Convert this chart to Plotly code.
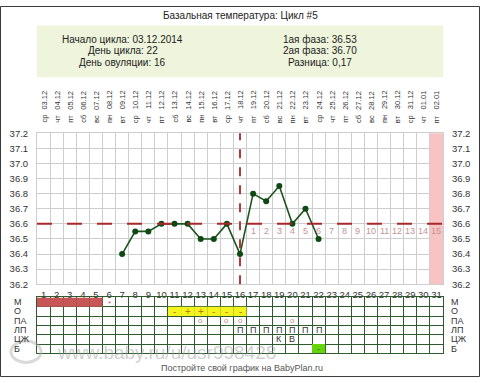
import plotly.graph_objects as go

W, H = 480, 383
def px(x): return x / W
def py(y): return 1 - y / H

# ---------------- data ----------------
days = list(range(1, 32))
dates = ["03.12", "04.12", "05.12", "06.12", "07.12", "08.12", "09.12", "10.12", "11.12", "12.12",
         "13.12", "14.12", "15.12", "16.12", "17.12", "18.12", "19.12", "20.12", "21.12", "22.12",
         "23.12", "24.12", "25.12", "26.12", "27.12", "28.12", "29.12", "30.12", "31.12", "01.01", "02.01"]
weekdays = ["ср", "чт", "пт", "сб", "вс", "пн", "вт", "ср", "чт", "пт", "сб", "вс", "пн", "вт",
            "ср", "чт", "пт", "сб", "вс", "пн", "вт", "ср", "чт", "пт", "сб", "вс", "пн", "вт",
            "ср", "чт", "пт"]
temp_days = [7, 8, 9, 10, 11, 12, 13, 14, 15, 16, 17, 18, 19, 20, 21, 22]
temps = [36.40, 36.55, 36.55, 36.60, 36.60, 36.60, 36.50, 36.50, 36.60, 36.40,
         36.80, 36.75, 36.85, 36.60, 36.70, 36.50]
coverline = 36.6
ovulation_day = 16
post_ov_days = [17, 18, 19, 20, 21, 22, 23, 24, 25, 26, 27, 28, 29, 30, 31]
post_ov_labels = ["1", "2", "3", "4", "5", "6", "7", "8", "9", "10", "11", "12", "13", "14", "15"]
highlight_days = [31]
y_min, y_max = 36.2, 37.2

title = "Базальная температура: Цикл #5"
info_left = ["Начало цикла: 03.12.2014", "День цикла: 22", "День овуляции: 16"]
info_right = ["1ая фаза: 36.53", "2ая фаза: 36.70", "Разница: 0,17"]

row_labels = ["М", "О", "ПА", "ЛП", "ЦЖ", "Б"]
menses_days = [1, 2, 3, 4, 5]
spot_days = [6]
spot_marks = ["*"]
test_days = [11, 12, 13, 14, 15, 16]
test_marks = ["-", "+", "+", "-", "-", "-"]
pa_days = [13, 15, 16, 20]
lp_days = [16, 17, 18, 19, 20, 21, 22]
cm_days = [19, 20]
cm_marks = ["К", "В"]
b_days = [22]
b_marks = ["-"]

watermark = "www.baby.ru/u/usr998428"
footer = "Постройте свой график на BabyPlan.ru"

# ---------------- layout geometry ----------------
FONT = "Liberation Sans, Arial, sans-serif"
xdom = [px(37), px(443)]
ydom_main = [py(286.5), py(131)]
ydom_tab = [py(357.6), py(300)]
bounds = [d - 0.5 for d in days] + [days[-1] + 0.5]
GRID = "#cdcdcd"
TGRID = "#2f5a2f"

fig = go.Figure()

# temperature curve
fig.add_trace(go.Scatter(x=temp_days, y=temps, mode="lines+markers",
                         line=dict(color="#1d5420", width=1.6),
                         marker=dict(color="#0d4a12", size=6),
                         xaxis="x", yaxis="y", hoverinfo="skip", showlegend=False))
# invisible traces so the right axis and table axes render
fig.add_trace(go.Scatter(x=[days[0]], y=[y_min], mode="markers", marker=dict(opacity=0),
                         xaxis="x", yaxis="y2", showlegend=False, hoverinfo="skip"))
fig.add_trace(go.Scatter(x=[days[0]], y=[0.5], mode="markers", marker=dict(opacity=0),
                         xaxis="x3", yaxis="y3", showlegend=False, hoverinfo="skip"))

shapes = []
annotations = []

# outer frame and info box
shapes.append(dict(type="rect", xref="paper", yref="paper", x0=px(0.5), x1=px(479.5),
                   y0=py(381.5), y1=py(0.5), line=dict(color="#3a3a3a", width=1), layer="below"))
shapes.append(dict(type="rect", xref="paper", yref="paper", x0=px(36.7), x1=px(443.3),
                   y0=py(73.3), y1=py(20), fillcolor="#eef5dc", line=dict(width=0), layer="below"))
# highlighted column
for d in highlight_days:
    shapes.append(dict(type="rect", xref="x", yref="y domain", x0=d - 0.5, x1=d + 0.5, y0=0, y1=1,
                       fillcolor="#f8c3c3", line=dict(width=0), layer="above"))
# coverline and ovulation line
shapes.append(dict(type="line", xref="x domain", yref="y", x0=0, x1=1, y0=coverline, y1=coverline,
                   line=dict(color="#a8282a", width=2, dash="longdash"), layer="above"))
shapes.append(dict(type="line", xref="x", yref="y domain", x0=ovulation_day, x1=ovulation_day, y0=0, y1=1,
                   line=dict(color="#b53a3a", width=2, dash="dash"), layer="above"))

# table fills and marks
def row_fill(ds, row, color):
    r = row_labels.index(row)
    for d in ds:
        shapes.append(dict(type="rect", xref="x3", yref="y3", x0=d - 0.5, x1=d + 0.5, y0=r, y1=r + 1,
                           fillcolor=color, line=dict(width=0), layer="above"))

def add_text(xs, row, texts, color, size=9, yshift=0):
    r = row_labels.index(row)
    for x, t in zip(xs, texts):
        annotations.append(dict(text=t, xref="x3", yref="y3", x=x, y=r + 0.5, showarrow=False,
                                xanchor="center", yanchor="middle", borderpad=0, yshift=yshift,
                                font=dict(family=FONT, size=size, color=color)))

row_fill(menses_days, "М", "#c95656")
row_fill(test_days, "О", "#f4f41e")
row_fill(b_days, "Б", "#66d40a")
add_text(spot_days, "М", spot_marks, "#c05a5a", 8, yshift=-1.5)
add_text(test_days, "О", test_marks, "#c07a00", 10)
add_text(pa_days, "ПА", ["o"] * len(pa_days), "#c09080", 8)
add_text(lp_days, "ЛП", ["П"] * len(lp_days), "#333333", 9)
add_text(cm_days, "ЦЖ", cm_marks, "#333333", 9)
add_text(b_days, "Б", b_marks, "#2a6a00", 9)

# faint logo
shapes.append(dict(type="circle", xref="paper", yref="paper", x0=px(11), x1=px(41), y0=py(367), y1=py(345),
                   line=dict(color="rgba(170,170,170,0.45)", width=3), layer="above"))

annotations.append(dict(text=title, xref="paper", yref="paper", x=0.5, y=py(9.5), showarrow=False,
                        xanchor="center", yanchor="middle",
                        font=dict(family=FONT, size=10, color="#222")))
for i, (l, r) in enumerate(zip(info_left, info_right)):
    yy = py([34, 46, 58.5][i])
    annotations.append(dict(text=l, xref="paper", yref="paper", x=px(123), y=yy, showarrow=False,
                            xanchor="center", yanchor="middle",
                            font=dict(family=FONT, size=10, color="#222")))
    annotations.append(dict(text=r, xref="paper", yref="paper", x=px(320), y=yy, showarrow=False,
                            xanchor="center", yanchor="middle",
                            font=dict(family=FONT, size=10, color="#222")))
for d, dt, wd in zip(days, dates, weekdays):
    annotations.append(dict(text=dt, xref="x", yref="paper", x=d, y=py(86), yanchor="top",
                            xanchor="center", textangle=-90, showarrow=False, borderpad=0,
                            font=dict(family=FONT, size=7.5, color="#333")))
    annotations.append(dict(text=wd, xref="x", yref="paper", x=d, y=py(121.5), yanchor="bottom",
                            xanchor="center", textangle=-90, showarrow=False, borderpad=0,
                            font=dict(family=FONT, size=7.5, color="#333")))
for d, t in zip(post_ov_days, post_ov_labels):
    annotations.append(dict(text=t, xref="x", yref="y", x=d, y=coverline, yanchor="top", xanchor="center",
                            showarrow=False, borderpad=1, font=dict(family=FONT, size=9, color="#c49494")))
for i, lab in enumerate(row_labels):
    annotations.append(dict(text=lab, xref="paper", yref="y3", x=px(12.5), y=i + 0.5, xanchor="left",
                            yanchor="middle", showarrow=False, borderpad=0,
                            font=dict(family=FONT, size=9, color="#333")))
    annotations.append(dict(text=lab, xref="paper", yref="y3", x=px(450), y=i + 0.5, xanchor="left",
                            yanchor="middle", showarrow=False, borderpad=0,
                            font=dict(family=FONT, size=9, color="#333")))
annotations.append(dict(text=watermark, xref="paper", yref="paper", x=px(166), y=py(356.5), showarrow=False,
                        xanchor="center", yanchor="middle", borderpad=0,
                        font=dict(family=FONT, size=19, color="rgba(160,160,160,0.5)")))
annotations.append(dict(text=footer, xref="paper", yref="paper", x=px(242), y=py(372.5), showarrow=False,
                        xanchor="center", yanchor="middle", borderpad=0,
                        font=dict(family=FONT, size=9, color="#555")))

tick_font = dict(family=FONT, size=9.5, color="#333")
fig.update_layout(
    width=W, height=H, margin=dict(l=0, r=0, t=0, b=0),
    paper_bgcolor="white", plot_bgcolor="white", showlegend=False,
    xaxis=dict(domain=xdom, anchor="y", range=[0.5, 31.5], tickmode="array", tickvals=days,
               ticktext=[str(d) for d in days], tickfont=tick_font, showgrid=False, zeroline=False,
               ticks="outside", ticklen=1, tickcolor="rgba(0,0,0,0)",
               minor=dict(tickmode="array", tickvals=bounds, showgrid=True, gridcolor=GRID, gridwidth=1),
               showline=True, mirror=True, linecolor=GRID),
    yaxis=dict(domain=ydom_main, anchor="x", range=[y_min, y_max], tick0=y_min, dtick=0.1,
               tickformat=".1f", tickfont=tick_font, gridcolor=GRID, zeroline=False,
               ticks="outside", ticklen=6, tickcolor="rgba(0,0,0,0)",
               showline=True, mirror=True, linecolor=GRID),
    yaxis2=dict(overlaying="y", side="right", anchor="x", range=[y_min, y_max], tick0=y_min, dtick=0.1,
                tickformat=".1f", tickfont=tick_font, showgrid=False, zeroline=False,
                ticks="outside", ticklen=6, tickcolor="rgba(0,0,0,0)"),
    xaxis3=dict(domain=xdom, anchor="y3", range=[0.5, 31.5], showticklabels=False, showgrid=False,
                zeroline=False, minor=dict(tickmode="array", tickvals=bounds, showgrid=True,
                                           gridcolor=TGRID, gridwidth=1),
                showline=True, mirror=True, linecolor=TGRID),
    yaxis3=dict(domain=ydom_tab, anchor="x3", range=[len(row_labels), 0], showticklabels=False,
                showgrid=False, zeroline=False,
                minor=dict(tickmode="array", tickvals=list(range(len(row_labels) + 1)), showgrid=True,
                           gridcolor=TGRID, gridwidth=1),
                showline=True, mirror=True, linecolor=TGRID),
    shapes=shapes, annotations=annotations,
)

fig.write_html("out.html", config={"displayModeBar": False, "staticPlot": True},
               post_script="document.body.style.margin='0';document.body.style.overflow='hidden';")
